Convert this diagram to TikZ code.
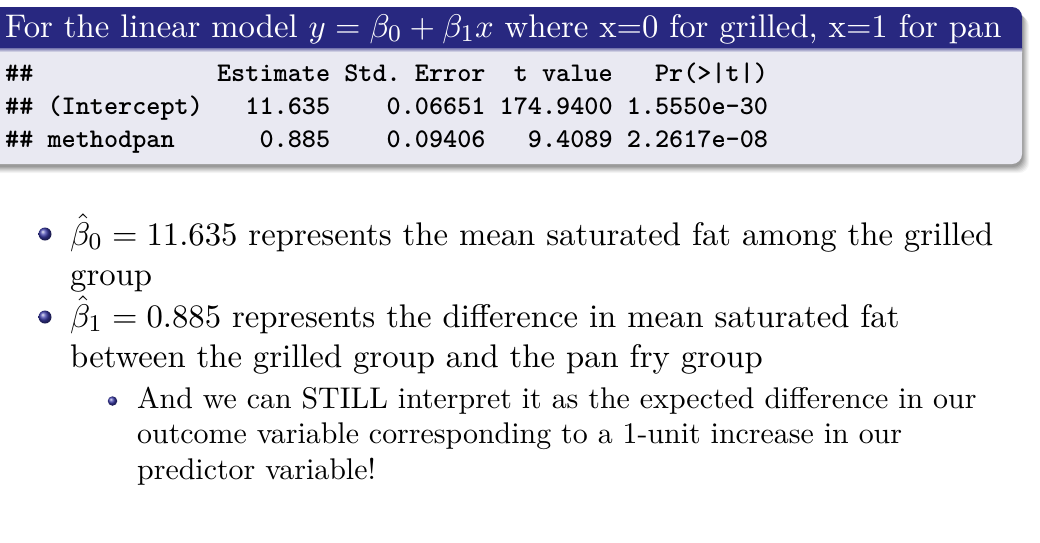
\documentclass[tikz,border=0pt]{standalone}
\definecolor{titlebg}{RGB}{40,40,128}
\definecolor{bodybg}{RGB}{233,233,242}
\definecolor{ballblue}{RGB}{60,60,170}
\newcommand{\kk}{2.99}
\tikzset{
  codeline/.style={anchor=base west, inner sep=0pt, font=\fontsize{9}{11}\selectfont\ttfamily\bfseries},
  titletext/.style={anchor=base west, inner sep=0pt, text=white, font=\fontsize{10.95}{13.6}\selectfont},
  maintext/.style={anchor=base west, inner sep=0pt, font=\fontsize{10.95}{13.6}\selectfont},
  subtext/.style={anchor=base west, inner sep=0pt, font=\fontsize{10}{12}\selectfont},
  ballbig/.style={circle, inner sep=0pt, minimum size=13pt, ball color=ballblue},
  ballsmall/.style={circle, inner sep=0pt, minimum size=9.5pt, ball color=ballblue},
}
\begin{document}
\begin{tikzpicture}[x=1pt,y=-1pt]
\useasboundingbox (0,0) rectangle (1040,542);
% shadow
\foreach \d/\op in {9/0.04,8/0.05,7/0.06,6/0.07,5/0.08,4/0.09,3/0.1}{
  \fill[black, opacity=\op, rounded corners=10pt] (-20,7+\d) rectangle (1022+\d-2,164+\d);
}
% body
\fill[bodybg, rounded corners=10pt] (-20,7) rectangle (1022,164);
\begin{scope}
  \clip (-30,0) rectangle (1040,48);
  \fill[titlebg, rounded corners=10pt] (-20,7) rectangle (1022,164);
\end{scope}
\shade[top color=titlebg!60!bodybg, bottom color=bodybg] (-20,48) rectangle (1022,52);
% title
\node[titletext] (title) at (5,37) {\scalebox{\kk}{For the linear model $y=\beta_0+\beta_1x$ where x=0 for grilled, x=1 for pan}};
% code
\node[codeline] (c1) at (5,81) {\scalebox{\kk}{\#\#~~~~~~~~~~~~~Estimate~Std.~Error~~t~value~~~Pr(>|t|)}};
\node[codeline] (c2) at (5,114) {\scalebox{\kk}{\#\#~(Intercept)~~~11.635~~~~0.06651~174.9400~1.5550e-30}};
\node[codeline] (c3) at (5,147) {\scalebox{\kk}{\#\#~methodpan~~~~~~0.885~~~~0.09406~~~9.4089~2.2617e-08}};
% bullets
\node[ballbig] (b1) at (45,234) {};
\node[maintext] (t1a) at (70,245) {\scalebox{\kk}{$\hat\beta_0=11.635$ represents the mean saturated fat among the grilled}};
\node[maintext] (t1b) at (70,285) {\scalebox{\kk}{group}};
\node[ballbig] (b2) at (45,317) {};
\node[maintext] (t2a) at (70,327) {\scalebox{\kk}{$\hat\beta_1=0.885$ represents the difference in mean saturated fat}};
\node[maintext] (t2b) at (70,367) {\scalebox{\kk}{between the grilled group and the pan fry group}};
\node[ballsmall] (b3) at (112.5,401) {};
\node[subtext] (t3a) at (137,408) {\scalebox{\kk}{And we can STILL interpret it as the expected difference in our}};
\node[subtext] (t3b) at (137,443.5) {\scalebox{\kk}{outcome variable corresponding to a 1-unit increase in our}};
\node[subtext] (t3c) at (137,479) {\scalebox{\kk}{predictor variable!}};
\end{tikzpicture}
\end{document}
